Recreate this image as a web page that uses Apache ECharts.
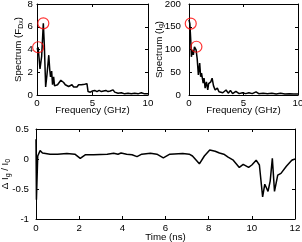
<!DOCTYPE html>
<html><head><meta charset="utf-8">
<script src="https://cdn.jsdelivr.net/npm/echarts@6/dist/echarts.min.js"></script>
<style>html,body{margin:0;padding:0;background:#fff}#c{width:302px;height:242px}</style>
</head><body><div id="c"></div>
<script>
// Top-left: Spectrum (F_Dx) vs Frequency (GHz)
const freqA = [0, 0.1, 0.27, 0.42, 0.57, 0.66, 0.78, 0.9, 1.06, 1.15, 1.22, 1.32, 1.4, 1.5, 1.58, 1.7, 1.85, 2.0, 2.15, 2.25, 2.4, 2.55, 2.68, 2.85, 3.0, 3.15, 3.3, 3.45, 3.6, 3.75, 3.87, 4.0, 4.15, 4.3, 4.5, 4.6, 4.8, 5.0, 5.2, 5.4, 5.6, 5.8, 6.0, 6.2, 6.4, 6.6, 6.85, 7.0, 7.3, 7.6, 7.9, 8.2, 8.5, 8.8, 9.1, 9.4, 9.7, 10];
const specA = [4.0, 4.2, 2.3, 3.4, 6.3, 4.4, 0.7, 1.8, 3.5, 2.2, 1.6, 2.1, 0.9, 1.6, 0.8, 0.7, 0.9, 1.1, 1.3, 1.45, 1.1, 0.9, 0.8, 0.75, 0.6, 0.9, 0.7, 0.85, 0.7, 0.9, 0.95, 0.9, 1.0, 0.95, 1.0, 0.3, 0.25, 0.35, 0.4, 0.3, 0.4, 0.3, 0.35, 0.4, 0.3, 0.35, 0.45, 0.25, 0.15, 0.2, 0.1, 0.15, 0.1, 0.15, 0.1, 0.2, 0.1, 0.1];
const peaksAx = [0.1, 0.57];
const peaksAy = [4.2, 6.3];

// Top-right: Spectrum (I_g) vs Frequency (GHz)
const freqB = [0, 0.08, 0.16, 0.22, 0.3, 0.4, 0.5, 0.65, 0.75, 0.86, 0.98, 1.07, 1.15, 1.3, 1.38, 1.48, 1.6, 1.72, 1.8, 2.0, 2.12, 2.25, 2.4, 2.6, 2.75, 2.9, 3.1, 3.4, 3.6, 3.8, 4.0, 4.3, 4.6, 4.9, 5.2, 5.5, 5.8, 6.15, 6.4, 6.8, 7.2, 7.6, 8.0, 8.4, 8.8, 9.2, 9.6, 10];
const specB = [165, 157, 120, 84, 99, 88, 106, 99, 80, 44, 70, 40, 48, 26, 37, 15, 29, 11, 25, 29, 37, 20, 11, 15, 7, 11, 5, 11, 4, 10, 3, 8, 3, 5, 3, 5, 3, 7, 3, 4, 3, 4, 2, 4, 2, 3, 2, 2];
const peaksBx = [0.16, 0.68];
const peaksBy = [157, 106];

// Bottom: ΔI_g/I_0 vs Time (ns)
const timeC = [0, 0.02, 0.08, 0.19, 0.3, 0.65, 1.0, 1.43, 1.8, 2.05, 2.28, 2.67, 3.3, 3.6, 3.8, 3.94, 4.2, 4.45, 4.68, 4.9, 5.3, 5.6, 5.9, 6.2, 6.8, 7.1, 7.25, 7.57, 7.8, 8.05, 8.3, 8.5, 8.7, 8.9, 9.14, 9.42, 9.6, 9.85, 10.0, 10.2, 10.35, 10.5, 10.6, 10.75, 10.85, 10.95, 11.05, 11.2, 11.35, 11.6, 11.85, 12];
const dI = [0.33, -0.68, 0.05, 0.14, 0.1, 0.08, 0.08, 0.09, 0.08, 0.01, 0.07, 0.07, 0.08, 0.095, 0.08, 0.1, 0.08, 0.07, 0.04, 0.08, 0.095, 0.08, 0.02, 0.08, 0.09, 0.08, 0.05, -0.08, 0.05, 0.15, 0.13, 0.1, 0.08, 0.03, -0.02, -0.14, -0.09, -0.14, -0.1, -0.02, -0.1, -0.63, -0.42, -0.54, -0.37, 0.01, -0.54, -0.27, -0.24, -0.12, -0.02, 0.0];

const F = 'Liberation Sans, Arial, sans-serif';
const FS = 9.7;
const txt = {color:'#000', fontFamily:F, fontSize:FS};
function pairs(xs, ys){ return xs.map((x,i)=>[x, ys[i]]); }

function xAx(gi, min, max, interval, name, gap, margin, showLab){
  return {type:'value', gridIndex:gi, min, max, interval, position: showLab?'bottom':'top',
    name: showLab?name:'', nameLocation:'middle', nameGap:gap, nameMoveOverlap:false, nameTextStyle:txt,
    axisLine:{show:true, onZero:false, lineStyle:{color:'#000', width:1}},
    axisTick:{show:true, inside:true, length:3, lineStyle:{color:'#000'}},
    axisLabel:{show:showLab, margin:margin, ...txt},
    splitLine:{show:false}};
}
function yAx(gi, min, max, interval, name, gap, margin, showLab){
  return {type:'value', gridIndex:gi, min, max, interval, position: showLab?'left':'right',
    name: showLab?name:'', nameLocation:'middle', nameGap:gap, nameRotate:90, nameMoveOverlap:false,
    nameTextStyle:{...txt, rich:{a:{...txt, lineHeight:12}, s:{fontFamily:F, color:'#000', fontSize:7, lineHeight:12, verticalAlign:'bottom', padding:[4,0,0,0]}}},
    axisLine:{show:true, onZero:false, lineStyle:{color:'#000', width:1}},
    axisTick:{show:true, inside:true, length:3, lineStyle:{color:'#000'}},
    axisLabel:{show:showLab, margin:margin, ...txt},
    splitLine:{show:false}};
}

const chart = echarts.init(document.getElementById('c'), null, {renderer:'canvas'});
const lineS = (xi, yi, data) => ({type:'line', xAxisIndex:xi, yAxisIndex:yi, data, symbol:'none', lineStyle:{color:'#000', width:1.5}, animation:false});
const circS = (xi, yi, data) => ({type:'scatter', xAxisIndex:xi, yAxisIndex:yi, data, symbol:'circle', symbolSize:11, itemStyle:{color:'rgba(0,0,0,0)', borderColor:'#ff0000', borderWidth:1.2}, z:5, animation:false});

chart.setOption({
  backgroundColor:'#fff',
  animation:false,
  grid:[
    {left:37, right:154, top:4, bottom:147, containLabel:false, outerBoundsMode:'none'},
    {left:189, right:4, top:4, bottom:147, containLabel:false, outerBoundsMode:'none'},
    {left:36, right:7, top:129, bottom:23, containLabel:false, outerBoundsMode:'none'}
  ],
  xAxis:[
    xAx(0, 0, 10, 5, 'Frequency (GHz)', 10.7, 3, true),
    xAx(0, 0, 10, 5, '', 0, 3, false),
    xAx(1, 0, 10, 5, 'Frequency (GHz)', 10.7, 3, true),
    xAx(1, 0, 10, 5, '', 0, 3, false),
    xAx(2, 0, 12, 2, 'Time (ns)', 13.6, 4, true),
    xAx(2, 0, 12, 2, '', 0, 4, false)
  ],
  yAxis:[
    yAx(0, 0, 8, 2, '{a|Spectrum (F}{s|Dx}{a|)}', 12.5, 4, true),
    yAx(0, 0, 8, 2, '', 0, 4, false),
    yAx(1, 0, 200, 50, '{a|Spectrum (I}{s|g}{a|)}', 24, 8, true),
    yAx(1, 0, 200, 50, '', 0, 8, false),
    yAx(2, -1, 0.5, 0.5, '{a|Δ I}{s|g}{a| / I}{s|0}', 24.5, 7, true),
    yAx(2, -1, 0.5, 0.5, '', 0, 7, false)
  ],
  series:[
    lineS(0, 0, pairs(freqA, specA)),
    circS(0, 0, pairs(peaksAx, peaksAy)),
    lineS(2, 2, pairs(freqB, specB)),
    circS(2, 2, pairs(peaksBx, peaksBy)),
    lineS(4, 4, pairs(timeC, dI))
  ]
});
</script></body></html>
